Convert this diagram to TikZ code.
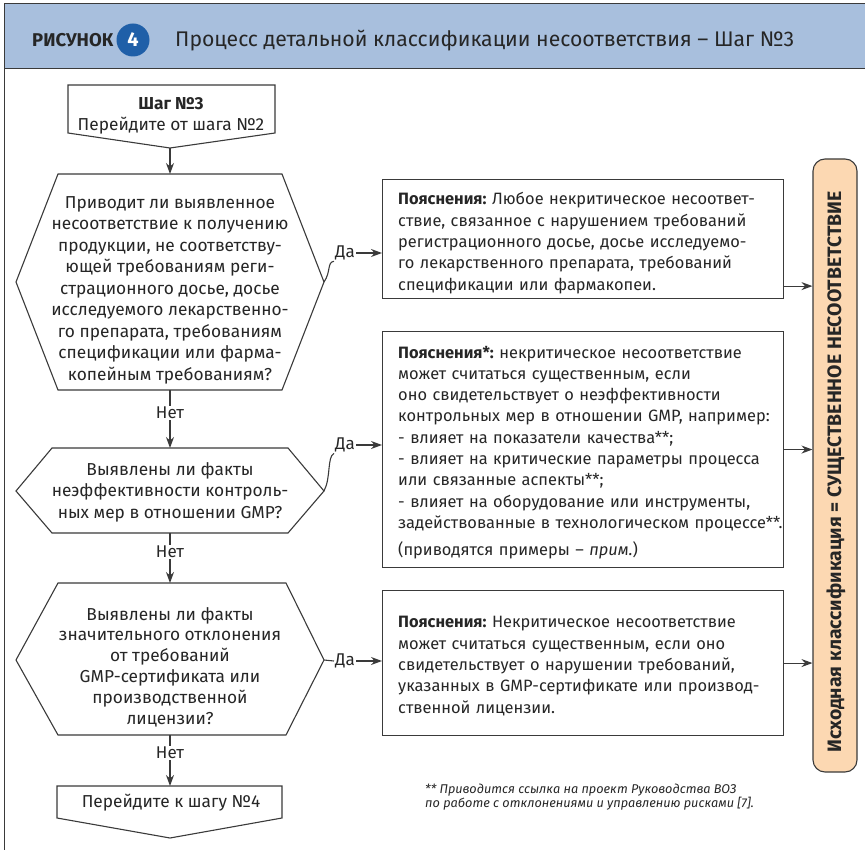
\documentclass[tikz,border=0pt]{standalone}
\usepackage{fontspec}
\setmainfont{Fira Sans}
\usetikzlibrary{arrows.meta,calc}
\definecolor{hdr}{HTML}{A8BFDD}
\definecolor{circ}{HTML}{1F5FA8}
\definecolor{peach}{HTML}{FCD8B2}
\definecolor{ln}{HTML}{3A3A3A}
\definecolor{txt}{HTML}{262626}
\frenchspacing
\begin{document}
\begin{tikzpicture}[x=1pt,y=-1pt,
  line/.style={draw=ln, line width=1.1pt},
  arr/.style={line, -{Stealth[length=11pt,width=8pt]}},
  shp/.style={line, fill=white, line join=miter},
  qtext/.style={align=center, font=\fontsize{17.3}{21.5}\selectfont, text=txt, inner sep=0pt},
  ebox/.style={line, fill=white, anchor=north west, minimum width=401pt, inner sep=0pt},
  etext/.style={anchor=west, align=left, text width=420pt, inner sep=0pt, font=\fontsize{16.4}{21.3}\selectfont, text=txt},
  lbl/.style={font=\fontsize{17}{19}\selectfont, text=txt, inner sep=1pt},
]
\useasboundingbox (0,0) rectangle (865,850);
% frame and header
\node[draw=ln, line width=1pt, fill=hdr, anchor=north west, minimum width=870pt, minimum height=65pt, inner sep=0pt] (head) at (4,3) {};
\draw[line, line width=1pt] (head.south west) -- (4,860);
\node[anchor=base west, font=\fontsize{18.5}{20}\selectfont\bfseries, text=txt, inner sep=0pt] (fig) at (32,47) {РИСУНОК};
\node[circle, fill=circ, minimum size=33pt, inner sep=0pt, text=white, font=\fontsize{20}{22}\selectfont\bfseries] (num) at (133,40) {4};
\node[anchor=base west, font=\fontsize{21.2}{24}\selectfont, text=txt, inner sep=0pt] (ttl) at (175,47) {Процесс детальной классификации несоответствия – Шаг №3};

% start box
\coordinate (sTip) at (170,148);
\draw[shp] (68,85) -- (275,85) -- (275,133) -- (sTip) -- (68,133) -- cycle;
\node[align=center, font=\fontsize{17.3}{20.5}\selectfont, text=txt, inner sep=0pt] (start) at (171,116) {\textbf{Шаг №3}\\Перейдите от шага №2};

% hexagon 1
\coordinate (q1T) at (170,174);
\coordinate (q1B) at (170,390);
\coordinate (q1R) at (324,282);
\draw[shp] (58,174) -- (282,174) -- (q1R) -- (282,390) -- (58,390) -- (16,282) -- cycle;
\node[qtext] (q1) at (170,290) {Приводит ли выявленное\\несоответствие к получению\\продукции, не соответству-\\ющей требованиям реги-\\страционного досье, досье\\исследуемого лекарственно-\\го препарата, требованиям\\спецификации или фарма-\\копейным требованиям?};

% hexagon 2
\coordinate (q2T) at (170,448);
\coordinate (q2B) at (170,533);
\coordinate (q2R) at (324,491);
\draw[shp] (52,448) -- (288,448) -- (q2R) -- (288,533) -- (52,533) -- (16,491) -- cycle;
\node[qtext] (q2) at (170,492) {Выявлены ли факты\\неэффективности контроль-\\ных мер в отношении GMP?};

% hexagon 3
\coordinate (q3T) at (170,583);
\coordinate (q3B) at (170,735);
\coordinate (q3R) at (324,660);
\draw[shp] (58,583) -- (286,583) -- (q3R) -- (286,735) -- (58,735) -- (16,660) -- cycle;
\node[qtext, font=\fontsize{17.3}{20.8}\selectfont] (q3) at (170,667) {Выявлены ли факты\\значительного отклонения\\от требований\\GMP-сертификата или\\производственной\\лицензии?};

% end box
\coordinate (eTop) at (170,786);
\draw[shp] (57,786) -- (282,786) -- (282,818) -- (170,838) -- (57,818) -- cycle;
\node[font=\fontsize{17.3}{20}\selectfont, text=txt, inner sep=0pt] (end) at (171,803) {Перейдите к шагу №4};

% explanation boxes
\node[ebox, minimum height=119pt] (b1) at (382,179) {};
\node[etext] (t1) at ($(b1.west)+(16,4)$) {\textbf{Пояснения:} Любое некритическое несоответ-\\ствие, связанное с нарушением требований\\регистрационного досье, досье исследуемо-\\го лекарственного препарата, требований\\спецификации или фармакопеи.};
\node[ebox, minimum height=236pt] (b2) at (382,331) {};
\node[etext] (t2) at ($(b2.west)+(16,3)$) {\textbf{Пояснения*:} некритическое несоответствие\\может считаться существенным, если\\оно свидетельствует о неэффективности\\контрольных мер в отношении GMP, например:\\- влияет на показатели качества**;\\- влияет на критические параметры процесса\\или связанные аспекты**;\\- влияет на оборудование или инструменты,\\задействованные в технологическом процессе**.\\[6pt](приводятся примеры – \textit{прим.})};
\node[ebox, minimum height=145pt] (b3) at (382,590) {};
\node[etext] (t3) at ($(b3.west)+(16,3)$) {\textbf{Пояснения:} Некритическое несоответствие\\может считаться существенным, если оно\\свидетельствует о нарушении требований,\\указанных в GMP-сертификате или производ-\\ственной лицензии.};

% classification box
\node[line, fill=peach, rounded corners=12pt, minimum width=44pt, minimum height=613pt, inner sep=0pt] (cls) at (835,465.5) {};
\node[rotate=90, font=\fontsize{19.4}{21}\selectfont\bfseries, text=txt, inner sep=0pt] (clst) at (836,472) {Исходная классификация = СУЩЕСТВЕННОЕ НЕСООТВЕТСТВИЕ};

% flow connectors
\draw[arr] (sTip) -- (q1T);
\node[lbl] (n1) at (170,413) {Нет};
\draw[line] (q1B) -- (n1.north);
\draw[arr] (n1.south) -- (q2T);
\node[lbl] (n2) at (170,552) {Нет};
\draw[line] (q2B) -- (n2.north);
\draw[arr] (n2.south) -- (q3T);
\node[lbl] (n3) at (170,753) {Нет};
\draw[line] (q3B) -- (n3.north);
\draw[arr] (n3.south) -- (eTop);

% yes connectors
\node[lbl] (d1) at (345,253) {Да};
\draw[line] (q1R) .. controls (331,272) and (327,262) .. (d1.south west);
\draw[arr] (d1.east) -- (d1.east -| b1.west);
\node[lbl] (d2) at (345,445) {Да};
\draw[line] (q2R) .. controls (331,478) and (327,457) .. (d2.south west);
\draw[arr] (d2.east) -- (d2.east -| b2.west);
\node[lbl] (d3) at (345,661) {Да};
\draw[line] (q3R) -- (d3.west);
\draw[arr] (d3.east) -- (d3.east -| b3.west);

% to classification
\coordinate (o1) at ($(b1.south east)+(0,-13)$);
\draw[arr] (o1) -- (o1 -| cls.west);
\draw[arr] (b2.east) -- (b2.east -| cls.west);
\draw[arr] (b3.east) -- (b3.east -| cls.west);

% footnote
\node[anchor=north west, align=left, font=\fontsize{12.7}{14}\selectfont\itshape, text=txt, inner sep=0pt] (fn) at (425,784) {** Приводится ссылка на проект Руководства ВОЗ\\по работе с отклонениями и управлению рисками [7].};
\end{tikzpicture}
\end{document}
